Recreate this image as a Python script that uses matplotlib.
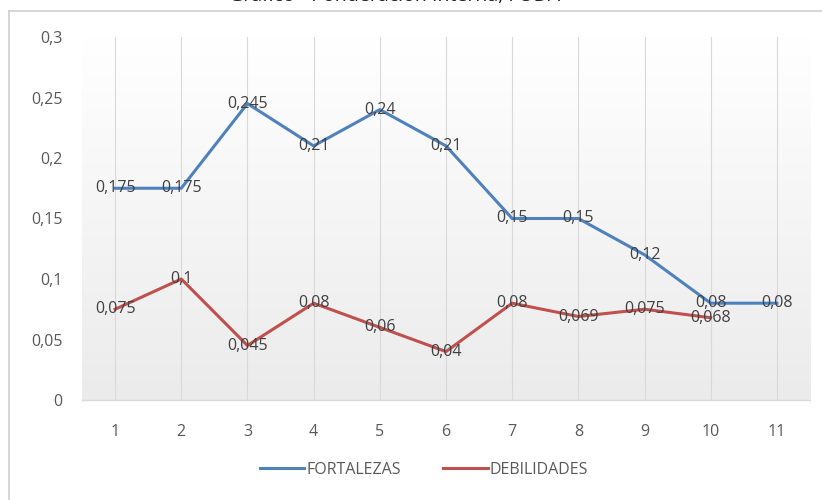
import numpy as np
import matplotlib
matplotlib.use("Agg")
import matplotlib.pyplot as plt
from matplotlib.lines import Line2D

# data
categories = [1, 2, 3, 4, 5, 6, 7, 8, 9, 10, 11]
fortalezas = [0.175, 0.175, 0.245, 0.21, 0.24, 0.21, 0.15, 0.15, 0.12, 0.08, 0.08]
debilidades = [0.075, 0.1, 0.045, 0.08, 0.06, 0.04, 0.08, 0.069, 0.075, 0.068]
y_ticks = [0, 0.05, 0.1, 0.15, 0.2, 0.25, 0.3]
series_names = ["FORTALEZAS", "DEBILIDADES"]

BLUE = "#4F81BD"
RED = "#C0504D"
TEXT = "#595959"
LABEL = "#404040"
GRID = "#d9d9d9"


def comma(v):
    return ("%g" % v).replace(".", ",")


plt.rcParams["font.family"] = ["Open Sans", "DejaVu Sans"]

fig = plt.figure(figsize=(8.22, 5.0), dpi=100)
W, H = 822, 500

# chart frame (only top and left edge are visible in the screenshot)
fig.add_artist(Line2D([9 / W, 9 / W], [0, 1 - 11 / H], color="#d0d0d0", lw=1.2))
fig.add_artist(Line2D([9 / W, 1], [1 - 11 / H, 1 - 11 / H], color="#d0d0d0", lw=1.2))

# title, cut off at the top edge like in the screenshot
fig.text(395 / W, 1 - 1.0 / H, "Gráfico - Ponderación Interna, FODA",
         ha="center", va="baseline", fontsize=14, color="#222222")

ax = fig.add_axes([82 / W, 1 - 400 / H, (810 - 82) / W, (400 - 37) / H])
ax.set_xlim(0.5, 11.5)
ax.set_ylim(0, 0.3)

# gradient background of the plot area: white on top, light grey at the bottom
grad = np.linspace(0.0, 1.0, 256).reshape(-1, 1)
ax.imshow(grad, extent=[0, 1, 0, 1], transform=ax.transAxes, aspect="auto",
          cmap=matplotlib.colors.LinearSegmentedColormap.from_list("g", ["#ffffff", "#ebebeb"]),
          vmin=0, vmax=1, zorder=0)

for c in categories:
    ax.axvline(c, color=GRID, lw=0.8, zorder=1)

ax.plot(categories, fortalezas, color=BLUE, lw=2.2, zorder=3, solid_joinstyle="round")
ax.plot(categories[:len(debilidades)], debilidades, color=RED, lw=2.2, zorder=3,
        solid_joinstyle="round")

for x, v in zip(categories, fortalezas):
    ax.text(x, v, comma(v), ha="center", va="center", fontsize=11.5, color=LABEL, zorder=4)
for x, v in zip(categories, debilidades):
    ax.text(x, v, comma(v), ha="center", va="center", fontsize=11.5, color=LABEL, zorder=4)

ax.set_xticks(categories)
ax.set_xticklabels([str(c) for c in categories])
ax.set_yticks(y_ticks)
ax.set_yticklabels([comma(v) for v in y_ticks])
ax.tick_params(length=0, labelsize=11.5, colors=TEXT)
ax.tick_params(axis="x", pad=17)
ax.tick_params(axis="y", pad=14)

for side in ["top", "right", "left"]:
    ax.spines[side].set_visible(False)
ax.spines["bottom"].set_color(GRID)
ax.spines["bottom"].set_linewidth(1.0)

handles = [Line2D([], [], color=BLUE, lw=2.2), Line2D([], [], color=RED, lw=2.2)]
leg = fig.legend(handles, series_names, loc="center", bbox_to_anchor=(424 / W, 1 - 470 / H),
                 ncol=2, frameon=False, fontsize=11.5, handlelength=2.8, handletextpad=0.15,
                 columnspacing=2.6)
for t in leg.get_texts():
    t.set_color(TEXT)

fig.savefig("out.png", dpi=100)
